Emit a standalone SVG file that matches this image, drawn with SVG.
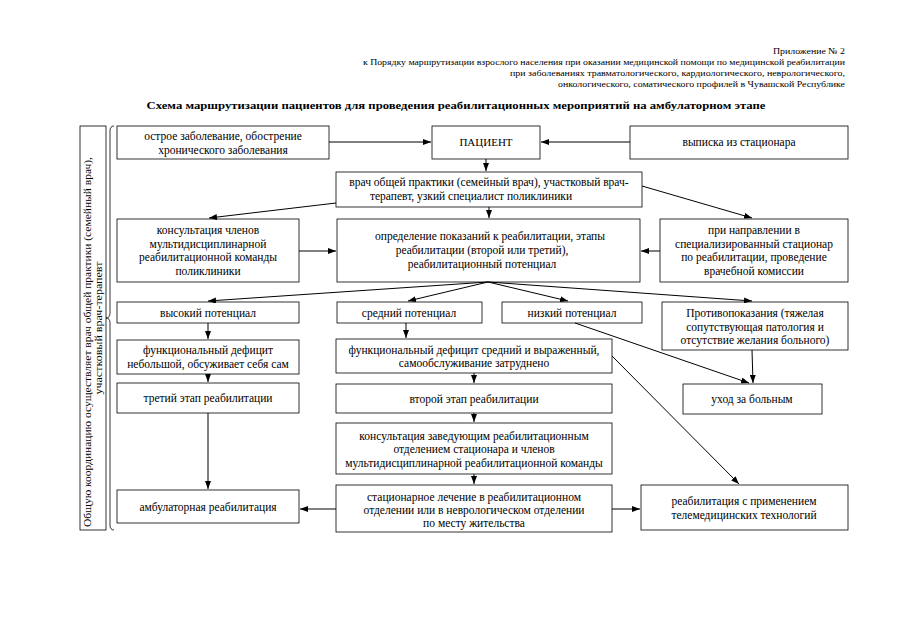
<svg xmlns="http://www.w3.org/2000/svg" width="904" height="640" viewBox="0 0 904 640">
<defs>
<marker id="a" viewBox="0 0 8 6" refX="8" refY="3" markerWidth="8" markerHeight="6" orient="auto" markerUnits="userSpaceOnUse">
<path d="M0,0 L8,3 L0,6 Z" fill="#000"/>
</marker>
<style>
text{font-family:"Liberation Serif","Times New Roman",serif;font-size:11.5px;fill:#000;text-anchor:middle}
.hd{font-size:9px;text-anchor:end}
.tt{font-size:11px;font-weight:bold}
.vt{font-size:11px}
.n rect,.b{fill:#fff;stroke:#000;stroke-width:0.8}
.c line{stroke:#000;stroke-width:1;marker-end:url(#a)}
.br{fill:none;stroke:#000;stroke-width:0.8}
</style>
</defs>
<rect width="904" height="640" fill="#fff"/>
<g id="header">
<text class="hd" x="845" y="54" textLength="72" lengthAdjust="spacingAndGlyphs">Приложение № 2</text>
<text class="hd" x="845" y="65" textLength="482" lengthAdjust="spacingAndGlyphs">к Порядку маршрутизации взрослого населения при оказании медицинской помощи по медицинской реабилитации</text>
<text class="hd" x="845" y="76" textLength="335" lengthAdjust="spacingAndGlyphs">при заболеваниях травматологического, кардиологического, неврологического,</text>
<text class="hd" x="845" y="87" textLength="287" lengthAdjust="spacingAndGlyphs">онкологического, соматического профилей в Чувашской Республике</text>
</g>
<text class="tt" x="456" y="109" textLength="619" lengthAdjust="spacingAndGlyphs">Схема маршрутизации пациентов для проведения реабилитационных мероприятий на амбулаторном этапе</text>

<g id="coord">
<rect class="b" x="80" y="126" width="26" height="404"/>
<text class="vt" transform="translate(91,342) rotate(-90)" textLength="370" lengthAdjust="spacingAndGlyphs">Общую координацию осуществляет врач общей практики (семейный врач),</text>
<text class="vt" transform="translate(102,328) rotate(-90)" textLength="133" lengthAdjust="spacingAndGlyphs">участковый врач-терапевт</text>
<path class="br" d="M114,126 Q110,126 110,131 L110,313 Q110,318 106,318 Q110,318 110,323 L110,525 Q110,530 114,530"/>
</g>

<g id="n1" class="n"><rect x="117" y="126" width="212" height="33"/><text x="223" y="140">острое заболевание, обострение</text><text x="223" y="154">хронического заболевания</text></g>
<g id="n2" class="n"><rect x="432" y="126" width="108" height="33"/><text x="486" y="146" style="font-size:11px">ПАЦИЕНТ</text></g>
<g id="n3" class="n"><rect x="630" y="126" width="218" height="33"/><text x="739" y="146">выписка из стационара</text></g>
<g id="n4" class="n"><rect x="336" y="172" width="306" height="35"/><text x="489" y="186">врач общей практики (семейный врач), участковый врач-</text><text x="471" y="200">терапевт, узкий специалист поликлиники</text></g>
<g id="n5" class="n"><rect x="117" y="219" width="182" height="63"/><text x="208" y="234">консультация членов</text><text x="208" y="247.5">мультидисциплинарной</text><text x="208" y="261">реабилитационной команды</text><text x="208" y="274.5">поликлиники</text></g>
<g id="n6" class="n"><rect x="337" y="219" width="303" height="63"/><text x="490" y="240">определение показаний к реабилитации, этапы</text><text x="482" y="254">реабилитации (второй или третий),</text><text x="482" y="268">реабилитационный потенциал</text></g>
<g id="n7" class="n"><rect x="660" y="219" width="188" height="63"/><text x="754" y="234">при направлении в</text><text x="754" y="247.5">специализированный стационар</text><text x="754" y="261">по реабилитации, проведение</text><text x="754" y="274.5">врачебной комиссии</text></g>
<g id="n8" class="n"><rect x="117" y="302" width="182" height="21"/><text x="208" y="316.5">высокий потенциал</text></g>
<g id="n9" class="n"><rect x="337" y="302" width="145" height="21"/><text x="409" y="316.5">средний потенциал</text></g>
<g id="n10" class="n"><rect x="502" y="302" width="140" height="21"/><text x="572" y="316.5">низкий потенциал</text></g>
<g id="n11" class="n"><rect x="662" y="302" width="186" height="48"/><text x="755" y="317">Противопоказания (тяжелая</text><text x="755" y="330.5">сопутствующая патология и</text><text x="755" y="344">отсутствие желания больного)</text></g>
<g id="n12" class="n"><rect x="117" y="340" width="182" height="34"/><text x="208" y="354">функциональный дефицит</text><text x="208" y="368">небольшой, обсуживает себя сам</text></g>
<g id="n13" class="n"><rect x="117" y="383" width="182" height="30"/><text x="208" y="402">третий этап реабилитации</text></g>
<g id="n14" class="n"><rect x="117" y="490" width="182" height="33"/><text x="208" y="510.5">амбулаторная реабилитация</text></g>
<g id="n15" class="n"><rect x="336" y="339" width="276" height="34"/><text x="474" y="353.5">функциональный дефицит средний и выраженный,</text><text x="474" y="367">самообслуживание затруднено</text></g>
<g id="n16" class="n"><rect x="336" y="384" width="276" height="29"/><text x="474" y="402.5">второй этап реабилитации</text></g>
<g id="n17" class="n"><rect x="336" y="423" width="276" height="51"/><text x="474" y="440">консультация заведующим реабилитационным</text><text x="474" y="453">отделением стационара и членов</text><text x="474" y="466.5">мультидисциплинарной реабилитационной команды</text></g>
<g id="n18" class="n"><rect x="336" y="485" width="276" height="47"/><text x="474" y="501">стационарное лечение в реабилитационном</text><text x="474" y="514">отделении или в неврологическом отделении</text><text x="474" y="527">по месту жительства</text></g>
<g id="n19" class="n"><rect x="683" y="384" width="139" height="30"/><text x="752" y="402.5">уход за больным</text></g>
<g id="n20" class="n"><rect x="641" y="485" width="207" height="45"/><text x="744" y="505">реабилитация с применением</text><text x="744" y="519">телемедицинских технологий</text></g>

<g id="connectors" class="c">
<line x1="329" y1="142" x2="431" y2="142"/>
<line x1="630" y1="142" x2="541" y2="142"/>
<line x1="486" y1="159" x2="486" y2="171"/>
<line x1="336" y1="203" x2="209" y2="218"/>
<line x1="642" y1="186" x2="752" y2="218"/>
<line x1="489" y1="207" x2="489" y2="218"/>
<line x1="299" y1="251" x2="336" y2="251"/>
<line x1="660" y1="251" x2="641" y2="251"/>
<line x1="488" y1="282" x2="208" y2="301"/>
<line x1="488" y1="282" x2="408" y2="301"/>
<line x1="488" y1="282" x2="568" y2="301"/>
<line x1="488" y1="282" x2="752" y2="301"/>
<line x1="208" y1="323" x2="208" y2="339"/>
<line x1="208" y1="374" x2="208" y2="382"/>
<line x1="208" y1="413" x2="208" y2="489"/>
<line x1="406" y1="323" x2="406" y2="338"/>
<line x1="474" y1="373" x2="474" y2="383"/>
<line x1="474" y1="413" x2="474" y2="422"/>
<line x1="474" y1="474" x2="474" y2="484"/>
<line x1="336" y1="509" x2="300" y2="509"/>
<line x1="612" y1="509" x2="640" y2="509"/>
<line x1="575" y1="323" x2="749" y2="383"/>
<line x1="612" y1="356" x2="739" y2="484"/>
<line x1="752" y1="350" x2="753" y2="383"/>
</g>
</svg>
